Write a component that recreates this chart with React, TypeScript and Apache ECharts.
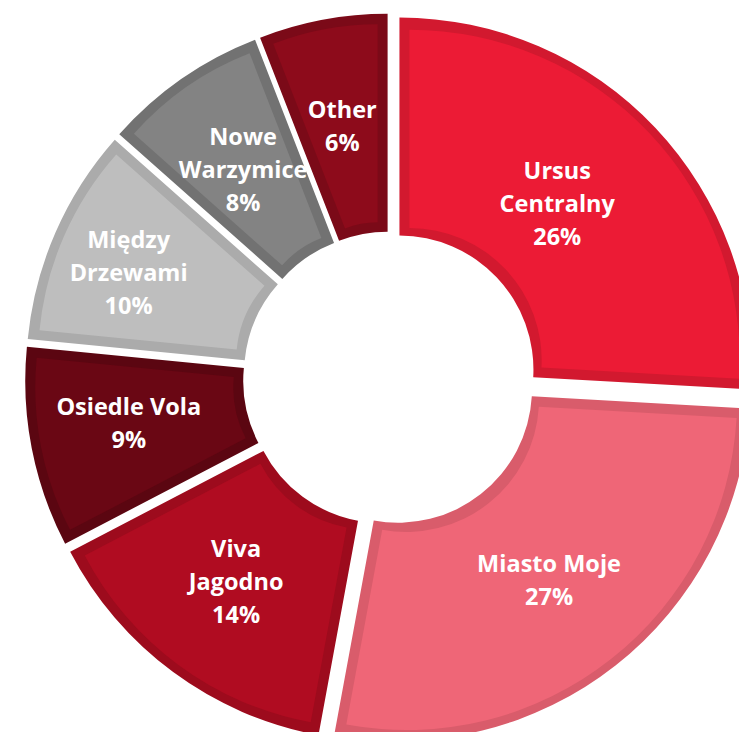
import React, { useEffect, useRef } from "react";
import * as echarts from "echarts";

const categories = [
  "Ursus Centralny",
  "Miasto Moje",
  "Viva Jagodno",
  "Osiedle Vola",
  "Między Drzewami",
  "Nowe Warzymice",
  "Other",
];
const labelNames = [
  "Ursus\nCentralny",
  "Miasto Moje",
  "Viva\nJagodno",
  "Osiedle Vola",
  "Między\nDrzewami",
  "Nowe\nWarzymice",
  "Other",
];
// shares (%); labels show them rounded
const shares = [25.9, 27.0, 14.45, 9.2, 10.0, 7.55, 5.9];
const fills = ["#EC1B35", "#EF6677", "#B00C21", "#6A0714", "#BEBEBE", "#838383", "#8D0B1B"];
const borders = ["#D2192F", "#D95C6B", "#9D0B1D", "#5B0611", "#ABABAB", "#727272", "#7B0A18"];
const labelShift: [number, number][] = [
  [-21, 2],
  [-1, -3],
  [0, -6],
  [-7, -5],
  [-24, -3],
  [1, 3],
  [0, 2],
];

const CENTER = [390, 378.5];
const R_IN = 134;
const R_OUT = 352;
const EXPLODE = 13;
const BAND = 10;

function solveRadius(target: number, delta: number, alpha: number) {
  let lo = 0;
  let hi = target + 100;
  for (let k = 0; k < 60; k++) {
    const m = (lo + hi) / 2;
    const f =
      delta + m + Math.sqrt(delta * delta + m * m + 2 * delta * m * Math.cos(alpha)) - 2 * target;
    if (f > 0) hi = m;
    else lo = m;
  }
  return (lo + hi) / 2;
}

export default function App() {
  const ref = useRef<HTMLDivElement>(null);
  useEffect(() => {
    if (!ref.current) return;
    const chart = echarts.init(ref.current, undefined, { renderer: "svg" });
    const total = shares.reduce((a, b) => a + b, 0);
    const clear = "rgba(0,0,0,0)";

    const base = {
      type: "pie",
      center: CENTER,
      startAngle: 90,
      clockwise: true,
      avoidLabelOverlap: false,
      silent: true,
      emphasis: { disabled: true },
      labelLine: { show: false },
    };

    const outline = {
      ...base,
      radius: [R_IN, R_OUT],
      selectedMode: "multiple",
      selectedOffset: EXPLODE,
      label: { show: false },
      data: shares.map((v, j) => ({
        value: v,
        name: categories[j],
        selected: true,
        itemStyle: { color: borders[j], borderWidth: 0 },
      })),
    };

    const interiors = shares.map((_, i) => {
      const alpha = (shares[i] / total) * Math.PI;
      const delta = BAND / Math.sin(alpha);
      const rin = solveRadius(R_IN + BAND, delta, alpha);
      const rout = solveRadius(R_OUT - BAND, delta, alpha);
      return {
        ...base,
        radius: [rin, rout],
        selectedMode: "multiple",
        selectedOffset: EXPLODE + delta,
        label: { show: false },
        data: shares.map((v, j) => ({
          value: v,
          name: categories[j],
          selected: true,
          itemStyle: { color: j === i ? fills[i] : clear, borderWidth: 0 },
        })),
      };
    });

    const textStyle = {
      color: "#FFFFFF",
      fontFamily: "Open Sans",
      fontWeight: "bold",
      fontSize: 23.5,
      lineHeight: 33,
    };

    const labels = {
      ...base,
      radius: [200, 312],
      label: {
        show: true,
        position: "inside",
        ...textStyle,
      },
      data: shares.map((v, j) => {
        const [sx, sy] = labelShift[j];
        const pct = Math.round((v / total) * 100);
        const lines = [...labelNames[j].split("\n"), `${pct}%`].map((l) => `{m|${l}}`);
        let text = lines.join("\n");
        if (sy > 0) text = `{s| }\n` + text;
        if (sy < 0) text = text + `\n{s| }`;
        return {
          value: v,
          name: categories[j],
          itemStyle: { color: clear, borderWidth: 0 },
          label: {
            formatter: text,
            padding: [0, Math.max(0, -2 * sx), 0, Math.max(0, 2 * sx)],
            rich: {
              m: { ...textStyle },
              s: { fontSize: 1, lineHeight: Math.max(1, Math.abs(2 * sy)), color: clear },
            },
          },
        };
      }),
    };

    chart.setOption({
      animation: false,
      backgroundColor: "#FFFFFF",
      series: [outline, ...interiors, labels],
    });
    return () => chart.dispose();
  }, []);
  return (
    <div
      ref={ref}
      style={{ position: "fixed", left: 0, top: 0, width: 739, height: 732 }}
    />
  );
}
